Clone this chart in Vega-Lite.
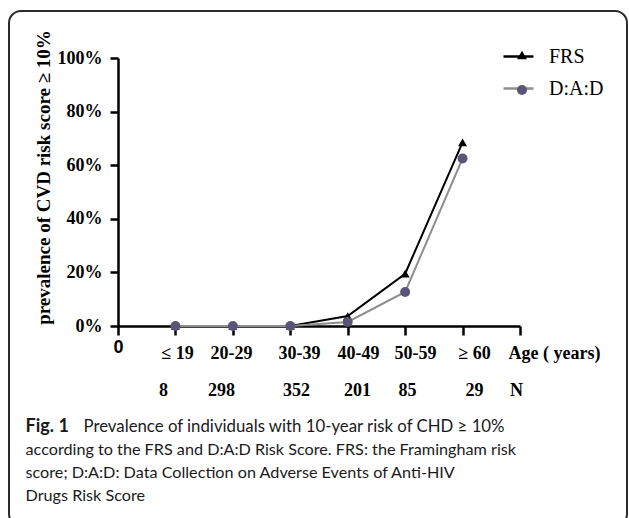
{
  "$schema": "https://vega.github.io/schema/vega-lite/v6.json",
  "width": 618,
  "height": 515,
  "autosize": {"type": "none"},
  "padding": {"left": 9, "top": 11, "right": 2, "bottom": 0},
  "background": "white",
  "config": {
    "view": {"stroke": "#2b2b2b", "strokeWidth": 2, "cornerRadius": 12, "fill": "white"},
    "axis": {"grid": false}
  },
  "data": {
    "values": [
      {"pos": 1, "age": "≤ 19", "n": 8, "series": "FRS", "value": 0},
      {"pos": 2, "age": "20-29", "n": 298, "series": "FRS", "value": 0},
      {"pos": 3, "age": "30-39", "n": 352, "series": "FRS", "value": 0},
      {"pos": 4, "age": "40-49", "n": 201, "series": "FRS", "value": 3.7},
      {"pos": 5, "age": "50-59", "n": 85, "series": "FRS", "value": 19.5},
      {"pos": 6, "age": "≥ 60", "n": 29, "series": "FRS", "value": 68.5},
      {"pos": 1, "age": "≤ 19", "n": 8, "series": "D:A:D", "value": 0},
      {"pos": 2, "age": "20-29", "n": 298, "series": "D:A:D", "value": 0},
      {"pos": 3, "age": "30-39", "n": 352, "series": "D:A:D", "value": 0},
      {"pos": 4, "age": "40-49", "n": 201, "series": "D:A:D", "value": 1.5},
      {"pos": 5, "age": "50-59", "n": 85, "series": "D:A:D", "value": 12.7},
      {"pos": 6, "age": "≥ 60", "n": 29, "series": "D:A:D", "value": 62.5}
    ]
  },
  "resolve": {"axis": {"x": "independent", "y": "independent"}},
  "layer": [
    {
      "mark": {"type": "line", "strokeWidth": 2},
      "encoding": {
        "x": {
          "field": "pos", "type": "quantitative",
          "scale": {"domain": [0, 7], "range": [109, 511], "nice": false, "zero": false},
          "axis": {
            "orient": "bottom", "offset": -200, "values": [0, 1, 2, 3, 4, 5, 6, 7],
            "labels": false, "grid": false,
            "domainColor": "black", "domainWidth": 2.5,
            "tickColor": "black", "tickWidth": 2.5, "tickSize": 9,
            "title": "Fig. 1",
            "titleFont": "Lato", "titleFontSize": 18, "titleFontWeight": "bold", "titleColor": "#1a1a1a",
            "titleX": 16, "titleY": 105, "titleAlign": "left", "titleBaseline": "alphabetic", "titleAnchor": null
          }
        },
        "y": {
          "field": "value", "type": "quantitative",
          "scale": {"domain": [0, 100], "range": [315, 47], "nice": false},
          "axis": {
            "orient": "left", "offset": -109, "values": [0, 20, 40, 60, 80, 100],
            "labelExpr": "datum.value + '%'",
            "labelFont": "Liberation Serif", "labelFontWeight": "bold", "labelFontSize": 18,
            "labelColor": "black", "labelPadding": 8, "labelOverlap": false, "labelFlush": false,
            "tickSize": 8, "tickWidth": 2.5, "tickColor": "black",
            "domainColor": "black", "domainWidth": 2.5, "grid": false,
            "title": "prevalence of CVD risk score ≥ 10%",
            "titleFont": "Liberation Serif", "titleFontWeight": "bold", "titleFontSize": 19,
            "titleColor": "black", "titleX": -75, "titleY": 166,
            "titleAlign": "center", "titleBaseline": "middle", "titleAngle": -90
          }
        },
        "stroke": {
          "field": "series", "type": "nominal", "sort": "descending",
          "scale": {"range": ["#000000", "#8e8e8e"]},
          "legend": {
            "orient": "none", "legendX": 493, "legendY": 29, "title": null, "padding": 0,
            "symbolType": "stroke", "symbolSize": 900, "symbolStrokeWidth": 2.5,
            "labelFont": "Liberation Serif", "labelFontSize": 20, "labelColor": "black",
            "labelOffset": 14, "rowPadding": 5
          }
        }
      }
    },
    {
      "transform": [{"filter": "datum.series == 'FRS'"}],
      "mark": {"type": "point", "filled": true, "size": 80, "opacity": 1, "strokeWidth": 0},
      "encoding": {
        "x": {
          "field": "pos", "type": "quantitative",
          "scale": {"domain": [0, 7], "range": [109, 511], "nice": false, "zero": false},
          "axis": {
            "orient": "bottom", "offset": -200, "domain": false, "ticks": false, "tickSize": 0,
            "values": [0, 1.027, 1.968, 3.152, 4.179, 5.171, 6.199, 6.791],
            "labelExpr": "datum.value < 0.5 ? '0' : datum.value < 1.5 ? '≤ 19' : datum.value < 2.5 ? '20-29' : datum.value < 3.5 ? '30-39' : datum.value < 4.5 ? '40-49' : datum.value < 5.5 ? '50-59' : datum.value < 6.5 ? '≥ 60' : 'Age ( years)'",
            "labelFont": {"condition": {"test": "datum.value < 0.5", "value": "Liberation Sans"}, "value": "Liberation Serif"},
            "labelFontWeight": "bold", "labelFontSize": 18, "labelColor": "black",
            "labelBaseline": "middle",
            "labelAlign": {"condition": {"test": "datum.value > 6.5", "value": "left"}, "value": "center"},
            "labelPadding": {"condition": {"test": "datum.value < 0.5", "value": 21}, "value": 27},
            "labelOverlap": false, "labelFlush": false, "labelBound": false, "grid": false,
            "title": "Prevalence of individuals with 10-year risk of CHD ≥ 10%",
            "titleFont": "Lato", "titleFontSize": 16.8, "titleFontWeight": "normal", "titleColor": "#1a1a1a",
            "titleX": 74, "titleY": 105, "titleAlign": "left", "titleBaseline": "alphabetic", "titleAnchor": null
          }
        },
        "y": {"field": "value", "type": "quantitative", "scale": {"domain": [0, 100], "range": [315, 47], "nice": false}, "axis": null},
        "fill": {
          "field": "series", "type": "nominal",
          "scale": {"domain": ["FRS", "D:A:D"], "range": ["#000000", "#5a5578"]},
          "legend": {
            "orient": "none", "legendX": 503, "legendY": 34, "title": null, "padding": 0,
            "symbolSize": 100, "symbolStrokeWidth": 0,
            "labelFont": "Liberation Serif", "labelFontSize": 20, "labelExpr": "''",
            "labelOffset": 0, "rowPadding": 15
          }
        },
        "shape": {
          "field": "series", "type": "nominal",
          "scale": {"domain": ["FRS", "D:A:D"], "range": ["triangle-up", "circle"]},
          "legend": {
            "orient": "none", "legendX": 503, "legendY": 34, "title": null, "padding": 0,
            "symbolSize": 100, "symbolStrokeWidth": 0,
            "labelFont": "Liberation Serif", "labelFontSize": 20, "labelExpr": "''",
            "labelOffset": 0, "rowPadding": 15
          }
        }
      }
    },
    {
      "transform": [{"filter": "datum.series == 'D:A:D'"}],
      "mark": {"type": "point", "filled": true, "size": 100, "opacity": 1, "strokeWidth": 0},
      "encoding": {
        "x": {
          "field": "pos", "type": "quantitative",
          "scale": {"domain": [0, 7], "range": [109, 511], "nice": false, "zero": false},
          "axis": {
            "orient": "bottom", "offset": -200, "domain": false, "ticks": false, "tickSize": 0,
            "values": [0.784, 1.793, 3.099, 4.162, 5.032, 6.199, 6.93],
            "labelExpr": "datum.value < 1.2 ? '8' : datum.value < 2.5 ? '298' : datum.value < 3.5 ? '352' : datum.value < 4.5 ? '201' : datum.value < 5.5 ? '85' : datum.value < 6.5 ? '29' : 'N'",
            "labelFont": "Liberation Serif", "labelFontWeight": "bold", "labelFontSize": 18,
            "labelColor": "black", "labelBaseline": "middle", "labelAlign": "center",
            "labelPadding": 64, "labelOverlap": false, "labelFlush": false, "labelBound": false, "grid": false,
            "title": [
              "according to the FRS and D:A:D Risk Score. FRS: the Framingham risk",
              "score; D:A:D: Data Collection on Adverse Events of Anti-HIV",
              "Drugs Risk Score"
            ],
            "titleFont": "Lato", "titleFontSize": 16.2, "titleFontWeight": "normal", "titleColor": "#1a1a1a",
            "titleLineHeight": 23,
            "titleX": 16, "titleY": 128, "titleAlign": "left", "titleBaseline": "alphabetic", "titleAnchor": null
          }
        },
        "y": {"field": "value", "type": "quantitative", "scale": {"domain": [0, 100], "range": [315, 47], "nice": false}, "axis": null},
        "fill": {
          "field": "series", "type": "nominal",
          "scale": {"domain": ["FRS", "D:A:D"], "range": ["#000000", "#5a5578"]},
          "legend": {
            "orient": "none", "legendX": 503, "legendY": 34, "title": null, "padding": 0,
            "symbolSize": 100, "symbolStrokeWidth": 0,
            "labelFont": "Liberation Serif", "labelFontSize": 20, "labelExpr": "''",
            "labelOffset": 0, "rowPadding": 15
          }
        },
        "shape": {
          "field": "series", "type": "nominal",
          "scale": {"domain": ["FRS", "D:A:D"], "range": ["triangle-up", "circle"]},
          "legend": {
            "orient": "none", "legendX": 503, "legendY": 34, "title": null, "padding": 0,
            "symbolSize": 100, "symbolStrokeWidth": 0,
            "labelFont": "Liberation Serif", "labelFontSize": 20, "labelExpr": "''",
            "labelOffset": 0, "rowPadding": 15
          }
        }
      }
    }
  ]
}
